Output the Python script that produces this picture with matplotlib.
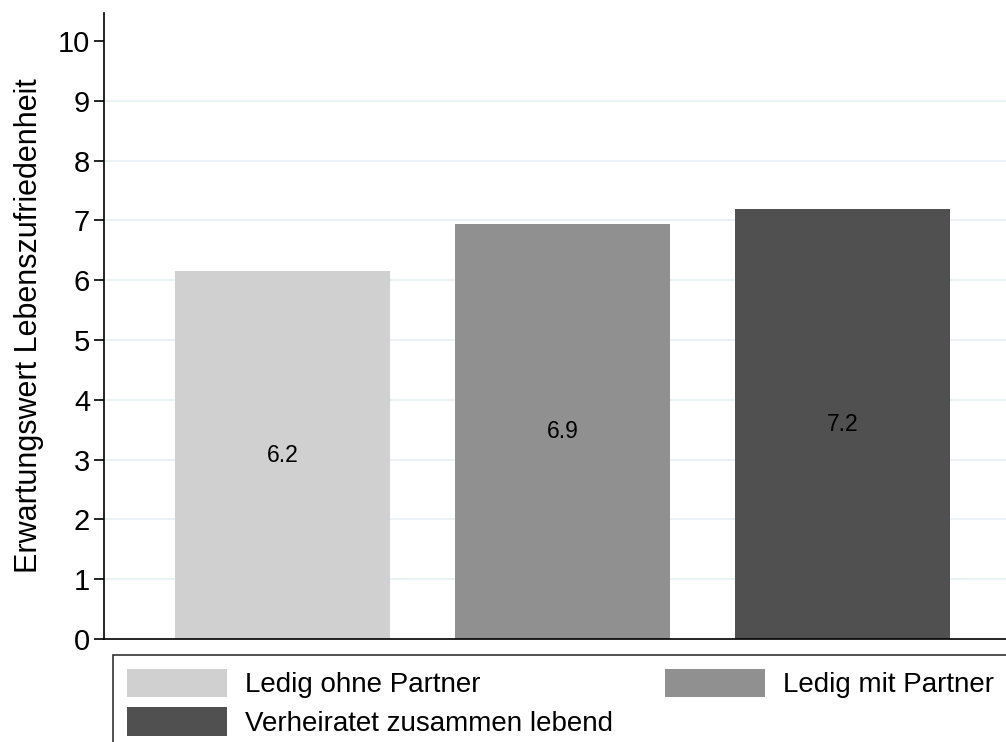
import matplotlib.pyplot as plt
from matplotlib.patches import Patch

# Values
categories = ["Ledig ohne Partner", "Ledig mit Partner", "Verheiratet zusammen lebend"]
values = [6.15, 6.94, 7.19]
value_labels = ["6.2", "6.9", "7.2"]
colors = ["#d0d0d0", "#909090", "#505050"]
yticks = list(range(0, 11))

plt.rcParams['font.family'] = ['Liberation Sans', 'DejaVu Sans']

fig = plt.figure(figsize=(10.06, 7.42), dpi=100)
ax = fig.add_axes([104 / 1006, 1 - 639 / 742, 1 - 104 / 1006 + 0.01, (639 - 13) / 742])

positions = [1, 2, 3]
bars = ax.bar(positions, values, width=0.767, color=colors, zorder=2)

# Value labels in the middle of each bar
for pos, val, lab in zip(positions, values, value_labels):
    ax.text(pos, val / 2, lab, ha='center', va='center', fontsize=16.5, color='black', zorder=3)

ax.set_xlim(0.362, 3.62)
ax.set_ylim(0, 10.47)
ax.set_yticks(yticks)
ax.set_yticklabels([str(t) for t in yticks], fontsize=21)
ax.set_xticks([])

# Light horizontal grid (not at 0 and 10)
for t in yticks[1:-1]:
    ax.axhline(t, color='#eaf2f3', linewidth=1.5, zorder=1)

for side in ['top', 'right']:
    ax.spines[side].set_visible(False)
ax.spines['left'].set_linewidth(1.2)
ax.spines['bottom'].set_linewidth(1.2)
ax.tick_params(axis='y', length=7, width=1.2, pad=3)

ax.set_ylabel("Erwartungswert Lebenszufriedenheit", fontsize=22, labelpad=10)

# Legend, row-wise order with two columns
handles = [Patch(facecolor=c, edgecolor='none') for c in colors]
order = [0, 2, 1]
leg_top = 1 - 655 / 742
leg_h = 0.14
leg = fig.legend([handles[i] for i in order], [categories[i] for i in order],
                 loc='upper left', bbox_to_anchor=(113 / 1006, leg_top - leg_h, 0.89, leg_h),
                 mode='expand', ncol=2, fontsize=20, frameon=True, fancybox=False,
                 handlelength=3.6, handleheight=1.2, handletextpad=0.65,
                 labelspacing=0.32, borderpad=0.5, columnspacing=1.0, borderaxespad=0)
leg.get_frame().set_edgecolor('black')
leg.get_frame().set_linewidth(1.2)

fig.savefig("out.png", dpi=100)
